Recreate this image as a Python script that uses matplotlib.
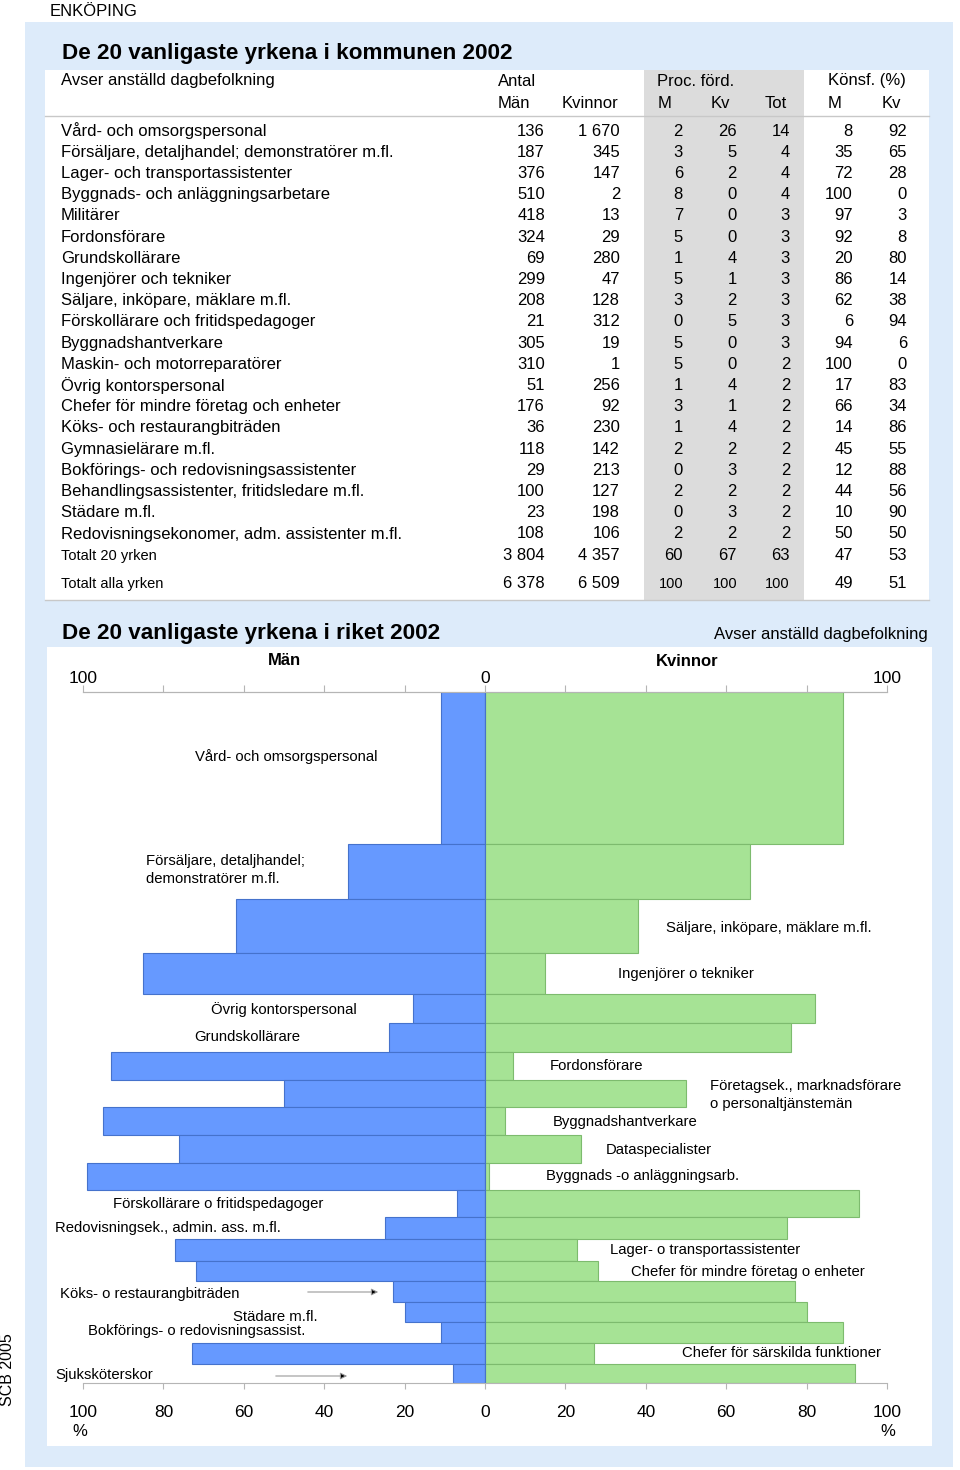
import numpy as np
import matplotlib
matplotlib.use("Agg")
import matplotlib.pyplot as plt
from matplotlib.patches import Rectangle
from matplotlib.ticker import FixedLocator, FuncFormatter

plt.rcParams["font.family"] = ["Liberation Sans", "DejaVu Sans"]

# -----------------------------
# DATA: kommunen (table)
# -----------------------------
yrken_kommun = [
    "Vård- och omsorgspersonal",
    "Försäljare, detaljhandel; demonstratörer m.fl.",
    "Lager- och transportassistenter",
    "Byggnads- och anläggningsarbetare",
    "Militärer",
    "Fordonsförare",
    "Grundskollärare",
    "Ingenjörer och tekniker",
    "Säljare, inköpare, mäklare m.fl.",
    "Förskollärare och fritidspedagoger",
    "Byggnadshantverkare",
    "Maskin- och motorreparatörer",
    "Övrig kontorspersonal",
    "Chefer för mindre företag och enheter",
    "Köks- och restaurangbiträden",
    "Gymnasielärare m.fl.",
    "Bokförings- och redovisningsassistenter",
    "Behandlingsassistenter, fritidsledare m.fl.",
    "Städare m.fl.",
    "Redovisningsekonomer, adm. assistenter m.fl.",
]
antal_man = [136, 187, 376, 510, 418, 324, 69, 299, 208, 21, 305, 310, 51, 176, 36, 118, 29, 100, 23, 108]
antal_kv = [1670, 345, 147, 2, 13, 29, 280, 47, 128, 312, 19, 1, 256, 92, 230, 142, 213, 127, 198, 106]
ford_m = [2, 3, 6, 8, 7, 5, 1, 5, 3, 0, 5, 5, 1, 3, 1, 2, 0, 2, 0, 2]
ford_kv = [26, 5, 2, 0, 0, 0, 4, 1, 2, 5, 0, 0, 4, 1, 4, 2, 3, 2, 3, 2]
ford_tot = [14, 4, 4, 4, 3, 3, 3, 3, 3, 3, 3, 2, 2, 2, 2, 2, 2, 2, 2, 2]
konsf_m = [8, 35, 72, 100, 97, 92, 20, 86, 62, 6, 94, 100, 17, 66, 14, 45, 12, 44, 10, 50]
konsf_kv = [92, 65, 28, 0, 3, 8, 80, 14, 38, 94, 6, 0, 83, 34, 86, 55, 88, 56, 90, 50]

total_labels = ["Totalt 20 yrken", "Totalt alla yrken"]
total_man = [3804, 6378]
total_kv = [4357, 6509]
total_ford_m = [60, 100]
total_ford_kv = [67, 100]
total_ford_tot = [63, 100]
total_konsf_m = [47, 49]
total_konsf_kv = [53, 51]

# -----------------------------
# DATA: riket (butterfly chart)
# -----------------------------
yrken_riket = [
    "Vård- och omsorgspersonal",
    "Försäljare, detaljhandel;\ndemonstratörer m.fl.",
    "Säljare, inköpare, mäklare m.fl.",
    "Ingenjörer o tekniker",
    "Övrig kontorspersonal",
    "Grundskollärare",
    "Fordonsförare",
    "Företagsek., marknadsförare\no personaltjänstemän",
    "Byggnadshantverkare",
    "Dataspecialister",
    "Byggnads -o anläggningsarb.",
    "Förskollärare o fritidspedagoger",
    "Redovisningsek., admin. ass. m.fl.",
    "Lager- o transportassistenter",
    "Chefer för mindre företag o enheter",
    "Köks- o restaurangbiträden",
    "Städare m.fl.",
    "Bokförings- o redovisningsassist.",
    "Chefer för särskilda funktioner",
    "Sjuksköterskor",
]
riket_man = [11, 34, 62, 85, 18, 24, 93, 50, 95, 76, 99, 7, 25, 77, 72, 23, 20, 11, 73, 8]
riket_kv = [89, 66, 38, 15, 82, 76, 7, 50, 5, 24, 1, 93, 75, 23, 28, 77, 80, 89, 27, 92]
# relative size of each occupation (bar thickness)
riket_storlek = [152, 55, 54, 41, 29, 28, 28, 27, 28, 28, 27, 27, 22, 22, 20, 21, 20, 21, 21, 19]

# label positions in pixels (x, y) of the left edge / centre line
label_pos = [
    (195, 757), (146, 870), (666, 928), (618, 974), (211, 1010), (194, 1037),
    (550, 1066), (710, 1095), (553, 1122), (606, 1150), (546, 1176), (113, 1204),
    (55, 1228), (610, 1250), (631, 1272), (60, 1294), (233, 1317), (88, 1331),
    (682, 1353), (55, 1375),
]

# -----------------------------
# FIGURE
# -----------------------------
W, H = 960, 1470
fig = plt.figure(figsize=(W / 100, H / 100), dpi=100)


def fx(x):
    return x / W


def fy(y):
    return 1 - y / H


def rect(x0, y0, x1, y1, color):
    fig.patches.append(Rectangle((fx(x0), fy(y1)), (x1 - x0) / W, (y1 - y0) / H,
                                 transform=fig.transFigure, facecolor=color,
                                 edgecolor="none", zorder=-10))


def fmt(n):
    return f"{n:,}".replace(",", " ")


LIGHT_BLUE = "#DDEBFA"
GRAY = "#DCDCDC"

rect(25, 22, 953, 1467, LIGHT_BLUE)
rect(45, 70, 929, 600, "white")
rect(644, 70, 804, 600, GRAY)
rect(47, 647, 932, 1446, "white")

fig.text(fx(50), fy(12), "ENKÖPING", fontsize=12, va="center", ha="left")
fig.text(fx(62), fy(53), "De 20 vanligaste yrkena i kommunen 2002", fontsize=16.2,
         fontweight="bold", va="center", ha="left")

FS = 12
fig.text(fx(61), fy(81), "Avser anställd dagbefolkning", fontsize=FS, va="center")
fig.text(fx(498), fy(81), "Antal", fontsize=FS, va="center")
fig.text(fx(657), fy(81), "Proc. förd.", fontsize=FS, va="center")
fig.text(fx(828), fy(81), "Könsf. (%)", fontsize=FS, va="center")
for x, s in [(498, "Män"), (562, "Kvinnor"), (658, "M"), (711, "Kv"), (765, "Tot"),
             (828, "M"), (882, "Kv")]:
    fig.text(fx(x), fy(103), s, fontsize=FS, va="center")
fig.add_artist(plt.Line2D([fx(45), fx(929)], [fy(116), fy(116)], color="#c8c8c8", lw=1))
fig.add_artist(plt.Line2D([fx(45), fx(929)], [fy(600), fy(600)], color="#c8c8c8", lw=1))

col_right = [545, 620, 683, 737, 790, 853, 907]
row_y = np.linspace(131, 534, len(yrken_kommun))
for i, name in enumerate(yrken_kommun):
    y = row_y[i]
    fig.text(fx(61), fy(y), name, fontsize=FS, va="center")
    vals = [fmt(antal_man[i]), fmt(antal_kv[i]), ford_m[i], ford_kv[i], ford_tot[i],
            konsf_m[i], konsf_kv[i]]
    for xr, v in zip(col_right, vals):
        fig.text(fx(xr), fy(y), str(v), fontsize=FS, va="center", ha="right")

for i, (lab, y) in enumerate(zip(total_labels, [556, 584])):
    fig.text(fx(61), fy(y), lab, fontsize=10.5, va="center")
    vals = [fmt(total_man[i]), fmt(total_kv[i])]
    for xr, v in zip(col_right[:2], vals):
        fig.text(fx(xr), fy(y), v, fontsize=FS, va="center", ha="right")
    fsz = FS if total_ford_m[i] < 100 else 10.5
    for xr, v in zip(col_right[2:5], [total_ford_m[i], total_ford_kv[i], total_ford_tot[i]]):
        fig.text(fx(xr), fy(y), str(v), fontsize=fsz, va="center", ha="right")
    for xr, v in zip(col_right[5:], [total_konsf_m[i], total_konsf_kv[i]]):
        fig.text(fx(xr), fy(y), str(v), fontsize=FS, va="center", ha="right")

# -----------------------------
# BUTTERFLY CHART
# -----------------------------
fig.text(fx(62), fy(633), "De 20 vanligaste yrkena i riket 2002", fontsize=16.2,
         fontweight="bold", va="center", ha="left")
fig.text(fx(928), fy(635), "Avser anställd dagbefolkning", fontsize=FS, va="center", ha="right")

ax_l, ax_r, ax_t, ax_b = 83, 887, 692, 1383
ax = fig.add_axes([fx(ax_l), fy(ax_b), (ax_r - ax_l) / W, (ax_b - ax_t) / H])
ax.set_facecolor("none")

storlek = np.array(riket_storlek, dtype=float)
bottoms = np.concatenate([[0], np.cumsum(storlek)[:-1]])
centers = bottoms + storlek / 2

ax.barh(centers, -np.array(riket_man), height=storlek, color="#6699FF",
        edgecolor="#4572CC", linewidth=0.8)
ax.barh(centers, riket_kv, height=storlek, color="#A6E395",
        edgecolor="#7DBB6E", linewidth=0.8)
ax.axvline(0, color="#4572CC", lw=0.8)

ax.set_xlim(-100, 100)
ax.set_ylim(storlek.sum(), 0)
ax.set_yticks([])
for s in ["left", "right"]:
    ax.spines[s].set_visible(False)
for s in ["top", "bottom"]:
    ax.spines[s].set_color("#b5b5b5")

ticks = np.arange(-100, 101, 20)
ax.set_xticks(ticks)
ax.set_xticklabels([str(abs(t)) for t in ticks], fontsize=12.5)
ax.tick_params(axis="x", bottom=True, direction="out", length=4,
               color="#b5b5b5", pad=12)

sec = ax.secondary_xaxis("top")
sec.xaxis.set_major_locator(FixedLocator(ticks))
sec.xaxis.set_major_formatter(FuncFormatter(lambda v, p: str(abs(int(v))) if v in (-100, 0, 100) else ""))
sec.tick_params(length=5, color="#b5b5b5", labelsize=12.5, pad=-1)
sec.spines["top"].set_color("#b5b5b5")

fig.text(fx(284), fy(660), "Män", fontsize=12, fontweight="bold", ha="center", va="center")
fig.text(fx(687), fy(661), "Kvinnor", fontsize=12, fontweight="bold", ha="center", va="center")
fig.text(fx(80), fy(1432), "%", fontsize=12, ha="center", va="center")
fig.text(fx(888), fy(1432), "%", fontsize=12, ha="center", va="center")

for name, (x, y) in zip(yrken_riket, label_pos):
    fig.text(fx(x), fy(y), name, fontsize=10.7, ha="left", va="center", linespacing=1.45)

for (x0, x1, y) in [(305, 381, 1292), (273, 350, 1376)]:
    ax.annotate("", xy=(fx(x1), fy(y)), xytext=(fx(x0), fy(y)),
                xycoords="figure fraction", textcoords="figure fraction",
                arrowprops=dict(arrowstyle="-|>", ec="#999999", fc="black", lw=0.8,
                                mutation_scale=10))

fig.text(fx(8), fy(1370), "SCB 2005", fontsize=11.5, rotation=90, ha="center", va="center")

fig.savefig("out.png", dpi=100)
